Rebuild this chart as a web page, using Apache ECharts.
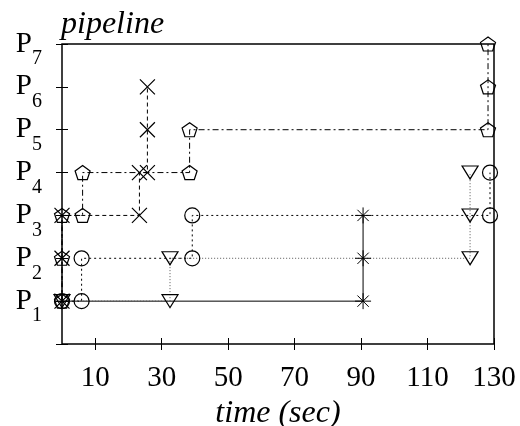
<!DOCTYPE html>
<html>
<head>
<meta charset="utf-8">
<script src="https://cdn.jsdelivr.net/npm/echarts@6/dist/echarts.min.js"></script>
<style>
html,body{margin:0;padding:0;background:#fff;}
#chart{width:520px;height:426px;}
</style>
</head>
<body>
<div id="chart"></div>
<script>
// 数据
var xTicks = [10, 30, 50, 70, 90, 110, 130];
var yLevels = [1, 2, 3, 4, 5, 6, 7];

// 星号 实线
var starX = [0, 90.6, 90.6, 90.6];
var starY = [1, 1, 2, 3];
// 圆圈 点线
var circX = [0, 5.9, 5.9, 39.2, 39.2, 128.8, 128.8];
var circY = [1, 1, 2, 2, 3, 3, 4];
// 倒三角 细点线
var triX = [0, 32.5, 32.5, 122.8, 122.8, 122.8];
var triY = [1, 1, 2, 2, 3, 4];
// 叉 虚线
var crossX = [0, 0, 0, 23.3, 23.3, 25.7, 25.7, 25.7];
var crossY = [1, 2, 3, 3, 4, 4, 5, 6];
// 五边形 点划线
var pentX = [0, 0, 0, 6.2, 6.2, 38.4, 38.4, 128.2, 128.2, 128.2];
var pentY = [1, 2, 3, 3, 4, 4, 5, 5, 6, 7];

var FONT = 'Liberation Serif';

function pairs(xs, ys) {
    var out = [];
    for (var i = 0; i < xs.length; i++) {
        out.push([xs[i], ys[i]]);
    }
    return out;
}

function makeSerie(xs, ys, symbol, size, lineType, lineColor, bw) {
    return {
        type: 'line',
        data: pairs(xs, ys),
        symbol: symbol,
        symbolSize: size,
        clip: false,
        silent: true,
        itemStyle: {
            color: 'transparent',
            borderColor: '#000',
            borderWidth: bw
        },
        lineStyle: {
            color: lineColor,
            width: 1,
            type: lineType
        },
        emphasis: {disabled: true}
    };
}

// y轴 P + 下标, 分成两个轴画
function levelAxis(position, showTick, label) {
    return {
        type: 'value',
        min: 0,
        max: 7,
        interval: 1,
        position: position,
        axisLine: {show: false},
        splitLine: {show: false},
        axisTick: {
            show: showTick,
            inside: true,
            length: 6,
            lineStyle: {color: '#000', width: 1}
        },
        axisLabel: label
    };
}

var starPath = 'path://M0,0L10,10M10,0L0,10M5,-2.07L5,12.07M-2.07,5L12.07,5';
var crossPath = 'path://M0,0L10,10M10,0L0,10';
var triPath = 'path://M0,0L10,0L5,8.2Z';
var pentPath = 'path://M0,-1L0.951,-0.309L0.588,0.809L-0.588,0.809L-0.951,-0.309Z';

var myChart = echarts.init(document.getElementById('chart'));
var option = {
    animation: false,
    title: {
        text: 'pipeline',
        left: 61,
        top: 9,
        padding: 0,
        textStyle: {
            fontFamily: FONT,
            fontStyle: 'italic',
            fontWeight: 'normal',
            fontSize: 32,
            color: '#000'
        }
    },
    grid: {
        left: 62,
        right: 26,
        top: 44,
        bottom: 82,
        outerBoundsMode: 'none',
        containLabel: false,
        show: true,
        borderColor: '#000',
        borderWidth: 1.5,
        backgroundColor: 'transparent'
    },
    xAxis: [
        {
            type: 'value',
            min: 0,
            max: 130,
            position: 'bottom',
            axisLine: {show: false},
            splitLine: {show: false},
            axisTick: {
                inside: true,
                length: 6,
                customValues: xTicks,
                lineStyle: {color: '#000', width: 1}
            },
            axisLabel: {
                customValues: xTicks,
                margin: 20,
                fontFamily: FONT,
                fontSize: 29,
                color: '#000'
            },
            name: 'time (sec)',
            nameLocation: 'middle',
            nameGap: 43,
            nameTextStyle: {
                fontFamily: FONT,
                fontStyle: 'italic',
                fontSize: 32,
                color: '#000'
            }
        },
        {
            type: 'value',
            min: 0,
            max: 130,
            position: 'top',
            axisLine: {show: false},
            splitLine: {show: false},
            axisTick: {
                inside: true,
                length: 6,
                customValues: xTicks,
                lineStyle: {color: '#000', width: 1}
            },
            axisLabel: {show: false}
        }
    ],
    yAxis: [
        levelAxis('left', true, {
            margin: 30,
            interval: 0,
            fontFamily: FONT,
            fontSize: 29,
            lineHeight: 30,
            color: '#000',
            formatter: function (v) {
                return yLevels.indexOf(v) < 0 ? '' : 'P';
            }
        }),
        levelAxis('right', true, {show: false}),
        levelAxis('left', false, {
            margin: 20,
            interval: 0,
            fontFamily: FONT,
            fontSize: 20,
            lineHeight: 30,
            verticalAlign: 'top',
            color: '#000',
            formatter: function (v) {
                return yLevels.indexOf(v) < 0 ? '' : String(v);
            }
        })
    ],
    series: [
        makeSerie(starX, starY, starPath, 16, 'solid', '#000', 1),
        makeSerie(circX, circY, 'circle', 15, [2, 3], '#000', 1.2),
        makeSerie(triX, triY, triPath, [16, 13], [1, 2], '#555', 1.2),
        makeSerie(crossX, crossY, crossPath, 15, [4, 3], '#000', 1.2),
        makeSerie(pentX, pentY, pentPath, [15, 14], [6, 3, 2, 3], '#000', 1.2)
    ]
};
myChart.setOption(option);
</script>
</body>
</html>
